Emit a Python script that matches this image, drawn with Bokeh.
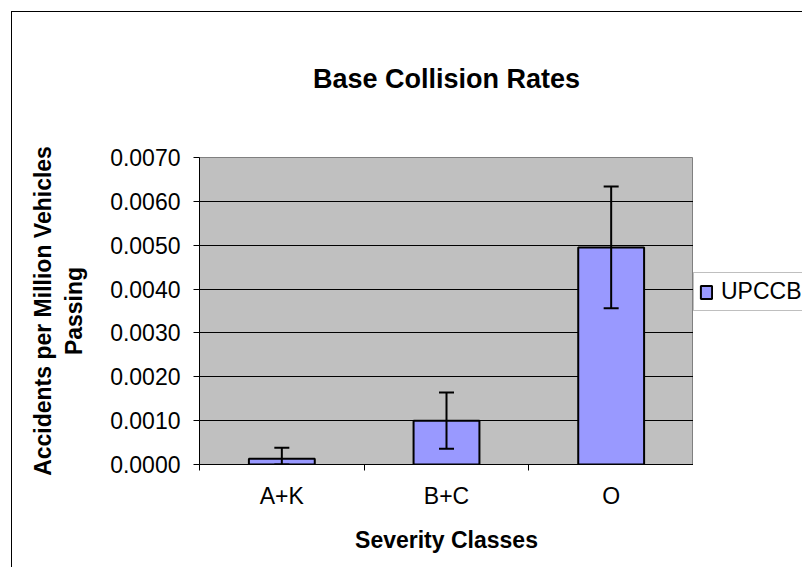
from bokeh.plotting import figure
from bokeh.layouts import row
from bokeh.models import (ColumnDataSource, FactorRange, Range1d, FixedTicker,
                          PrintfTickFormatter, LinearAxis, CategoricalAxis, Whisker,
                          TeeHead, Legend, LegendItem)
from bokeh.embed import file_html
from bokeh.resources import INLINE

# ---- data ----
categories = ["A+K", "B+C", "O"]
rates = [0.00013, 0.00100, 0.00495]
errors = [0.00025, 0.00064, 0.00139]
y_ticks = [0.0, 0.001, 0.002, 0.003, 0.004, 0.005, 0.006, 0.007]
series_name = "UPCCB"
title_text = "Base Collision Rates"
x_title = "Severity Classes"
y_title = "Accidents per Million Vehicles\nPassing"

upper = [r + e for r, e in zip(rates, errors)]
lower = [max(r - e, 0.0) for r, e in zip(rates, errors)]
src = ColumnDataSource(dict(cat=categories, rate=rates, upper=upper, lower=lower))

FONT = "Liberation Sans"
H = 555
W_MAIN = 681
W_LEG = 109
BAR_FILL = "#9999FF"

p = figure(width=W_MAIN, height=H,
           x_range=FactorRange(*categories, range_padding=0),
           y_range=Range1d(y_ticks[0], y_ticks[-1]),
           output_backend="svg", toolbar_location=None,
           x_axis_location=None, y_axis_location="left",
           min_border_left=187, min_border_right=0,
           min_border_top=145, min_border_bottom=103)

p.background_fill_color = "#C0C0C0"
p.border_fill_color = "white"
p.outline_line_color = "#808080"
p.outline_line_width = 1

# title drawn as the label of an empty axis above the plot area
title_axis = LinearAxis(ticker=FixedTicker(ticks=[], minor_ticks=[]),
                        axis_line_color=None, major_tick_line_color=None,
                        minor_tick_line_color=None,
                        major_tick_out=0, major_tick_in=0,
                        minor_tick_out=0, minor_tick_in=0,
                        major_label_standoff=0,
                        axis_label=title_text, axis_label_text_font=FONT,
                        axis_label_text_font_size="27px",
                        axis_label_text_font_style="bold",
                        axis_label_text_color="black", axis_label_standoff=64)
p.add_layout(title_axis, "above")

# boundary tick axis (ticks between categories, synthetic coordinates)
edge_ticks = list(range(len(categories) + 1))
edge_axis = LinearAxis(ticker=FixedTicker(ticks=edge_ticks, minor_ticks=[]),
                       major_label_overrides={t: "" for t in edge_ticks},
                       major_tick_out=6, major_tick_in=0,
                       minor_tick_out=0, minor_tick_in=0,
                       major_label_text_font_size="1px", major_label_standoff=0,
                       axis_line_color="black", axis_line_width=1,
                       major_tick_line_color="black")
p.add_layout(edge_axis, "below")

cat_axis = CategoricalAxis(axis_line_color=None, major_tick_line_color=None,
                           minor_tick_line_color=None,
                           major_label_text_font=FONT, major_label_text_font_size="23px",
                           major_label_text_color="black", major_label_standoff=6,
                           axis_label=x_title, axis_label_text_font=FONT,
                           axis_label_text_font_size="23px", axis_label_text_font_style="bold",
                           axis_label_text_color="black", axis_label_standoff=15)
p.add_layout(cat_axis, "below")

yax = p.yaxis[0]
yax.ticker = FixedTicker(ticks=y_ticks, minor_ticks=[])
yax.formatter = PrintfTickFormatter(format="%.4f")
yax.major_tick_out = 6
yax.major_tick_in = 0
yax.minor_tick_line_color = None
yax.axis_line_color = "black"
yax.major_tick_line_color = "black"
yax.major_label_standoff = 13
yax.major_label_text_font = FONT
yax.major_label_text_font_size = "23px"
yax.major_label_text_color = "black"
yax.axis_label = y_title
yax.axis_label_text_font = FONT
yax.axis_label_text_font_size = "23px"
yax.axis_label_text_font_style = "bold"
yax.axis_label_text_color = "black"
yax.axis_label_standoff = 20

for g in p.grid:
    if g.dimension == 0:
        g.visible = False
    else:
        g.ticker = FixedTicker(ticks=y_ticks[1:-1], minor_ticks=[])
        g.grid_line_color = "black"
        g.grid_line_width = 1

bars = p.vbar(x="cat", top="rate", width=0.4, source=src,
              fill_color=BAR_FILL, line_color="black", line_width=2)

whisk = Whisker(base="cat", upper="upper", lower="lower", source=src,
                line_color="black", line_width=2, level="overlay",
                upper_head=TeeHead(size=15, line_color="black", line_width=2),
                lower_head=TeeHead(size=15, line_color="black", line_width=2))
p.add_layout(whisk)

# ---- legend panel to the right of the plot area ----
# same series, hidden, so that only its legend entry shows
p2 = figure(width=W_LEG, height=H,
            x_range=FactorRange(*categories, range_padding=0),
            y_range=Range1d(1, 2),
            output_backend="svg", toolbar_location=None,
            x_axis_location=None, y_axis_location=None,
            min_border_left=0, min_border_right=0,
            min_border_top=0, min_border_bottom=0)
p2.outline_line_color = None
p2.background_fill_color = "white"
p2.border_fill_color = "white"
for g in p2.grid:
    g.visible = False
legend_glyph = p2.vbar(x="cat", top="rate", width=0.4, source=src,
                       fill_color=BAR_FILL, line_color="black", line_width=2)
legend_glyph.visible = False
legend = Legend(items=[LegendItem(label=series_name, renderers=[legend_glyph])],
                location=(0, 153), border_line_color="#808080",
                background_fill_color="white", background_fill_alpha=1,
                inactive_fill_alpha=0,
                label_text_font=FONT, label_text_font_size="23px",
                label_text_color="black",
                glyph_width=14, glyph_height=16, padding=5, label_standoff=8,
                margin=0, spacing=0)
p2.add_layout(legend)

layout = row(p, p2, spacing=0)
layout.styles = {"margin-left": "11px", "margin-top": "11px",
                 "border-left": "1px solid black", "border-top": "1px solid black"}

open("out.html", "w").write(file_html(layout, INLINE))
